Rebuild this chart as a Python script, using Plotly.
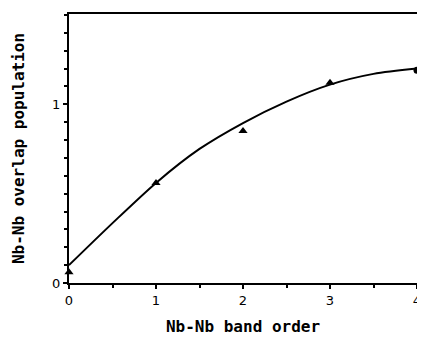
import plotly.graph_objects as go

# measured points
bond_order = [0, 1, 2, 3]
overlap_tri = [0.06, 0.56, 0.85, 1.12]
bond_order_circ = [4]
overlap_circ = [1.19]

# fitted curve
curve_x = [0, 0.5, 1, 1.5, 2, 2.5, 3, 3.5, 4]
curve_y = [0.10, 0.335, 0.56, 0.75, 0.895, 1.015, 1.11, 1.17, 1.20]

x_ticks = [0, 1, 2, 3, 4]
y_ticks = [0, 1]

fig = go.Figure()
fig.add_trace(go.Scatter(x=curve_x, y=curve_y, mode="lines",
                         line=dict(color="black", width=2, shape="spline", smoothing=0.8),
                         cliponaxis=False, showlegend=False))
fig.add_trace(go.Scatter(x=bond_order, y=overlap_tri, mode="markers",
                         marker=dict(symbol="triangle-up", size=8, color="black"),
                         cliponaxis=False, showlegend=False))
fig.add_trace(go.Scatter(x=bond_order_circ, y=overlap_circ, mode="markers",
                         marker=dict(symbol="circle", size=7, color="black"),
                         cliponaxis=False, showlegend=False))

axis_common = dict(showline=True, linecolor="black", linewidth=2, mirror=True,
                   showgrid=False, zeroline=False, ticks="outside", ticklen=4,
                   tickwidth=2, tickcolor="black",
                   tickfont=dict(family="DejaVu Sans", size=13, color="black"))

fig.update_xaxes(range=[0, 4], tickvals=x_ticks, ticktext=[str(v) for v in x_ticks],
                 minor=dict(dtick=0.5, tick0=0, ticks="outside", ticklen=3, tickwidth=2, tickcolor="black"),
                 title=dict(text="<b>Nb-Nb band order</b>", standoff=14,
                            font=dict(family="DejaVu Sans Mono", size=16, color="black")),
                 **axis_common)
fig.update_yaxes(range=[0, 1.505], tickvals=y_ticks, ticktext=[str(v) for v in y_ticks],
                 minor=dict(dtick=0.1, tick0=0, ticks="outside", ticklen=3, tickwidth=2, tickcolor="black"),
                 title=dict(text="<b>Nb-Nb overlap population</b>", standoff=24,
                            font=dict(family="DejaVu Sans Mono", size=16, color="black")),
                 **axis_common)

# page body has an 8px margin, so the figure is drawn 8px smaller and offset
fig.update_layout(width=417, height=330, margin=dict(l=61, r=4, t=4, b=55),
                  plot_bgcolor="white", paper_bgcolor="white")
fig.write_html("out.html")
